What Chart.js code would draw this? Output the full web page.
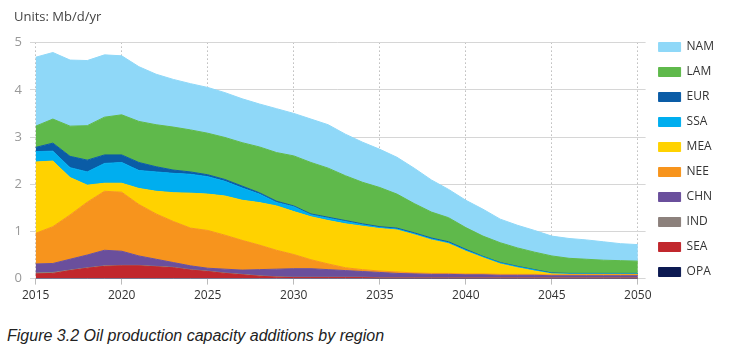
<!DOCTYPE html>
<html>
<head>
<meta charset="utf-8">
<script src="https://cdn.jsdelivr.net/npm/chart.js@4.4.1/dist/chart.umd.min.js"></script>
<style>
  body { margin: 0; background: #fff; }
  #wrap { position: relative; width: 749px; height: 310px; }
  #caption { position: absolute; left: 7px; top: 327px; font: italic 16px "Liberation Sans", Arial, sans-serif; color: #222; }
</style>
</head>
<body>
<div id="wrap"><canvas id="myChart"></canvas></div>
<div id="caption">Figure 3.2 Oil production capacity additions by region</div>
<script>
// Years on the x axis
var years = [2015, 2016, 2017, 2018, 2019, 2020, 2021, 2022, 2023, 2024,
             2025, 2026, 2027, 2028, 2029, 2030, 2031, 2032, 2033, 2034,
             2035, 2036, 2037, 2038, 2039, 2040, 2041, 2042, 2043, 2044,
             2045, 2046, 2047, 2048, 2049, 2050];
var xTicks = [2015, 2020, 2025, 2030, 2035, 2040, 2045, 2050];

// Capacity additions per region, Mb/d/yr
var opa = [0, 0, 0, 0, 0, 0, 0, 0, 0, 0,
           0, 0, 0, 0, 0, 0, 0, 0, 0, 0,
           0, 0, 0, 0, 0, 0, 0, 0, 0, 0,
           0, 0, 0, 0, 0, 0];
var sea = [0.10, 0.11, 0.17, 0.22, 0.26, 0.27, 0.27, 0.25, 0.23, 0.18,
           0.15, 0.11, 0.08, 0.05, 0.03, 0.02, 0.02, 0.02, 0.02, 0.02,
           0.01, 0.01, 0.01, 0.01, 0.01, 0.01, 0.01, 0.01, 0.01, 0.01,
           0.01, 0.01, 0.01, 0.01, 0.01, 0.01];
var ind = [0.02, 0.02, 0.01, 0.01, 0.01, 0.01, 0.01, 0.01, 0.01, 0.01,
           0.01, 0.01, 0.01, 0.01, 0.01, 0.01, 0.01, 0.01, 0.01, 0.01,
           0.01, 0.01, 0.01, 0.01, 0.01, 0.01, 0.01, 0.01, 0.01, 0.01,
           0.01, 0.01, 0.01, 0.01, 0.01, 0.01];
var chn = [0.19, 0.19, 0.23, 0.27, 0.33, 0.30, 0.20, 0.15, 0.10, 0.08,
           0.06, 0.08, 0.09, 0.13, 0.16, 0.18, 0.18, 0.16, 0.14, 0.12,
           0.11, 0.09, 0.08, 0.07, 0.07, 0.06, 0.06, 0.05, 0.05, 0.05,
           0.04, 0.04, 0.04, 0.04, 0.04, 0.04];
var nee = [0.65, 0.78, 0.94, 1.12, 1.25, 1.25, 1.09, 0.96, 0.87, 0.80,
           0.80, 0.72, 0.63, 0.52, 0.40, 0.30, 0.19, 0.12, 0.06, 0.04,
           0.03, 0.03, 0.02, 0.02, 0.02, 0.02, 0.02, 0.02, 0.02, 0.02,
           0.02, 0.02, 0.02, 0.02, 0.02, 0.02];
var mea = [1.51, 1.39, 0.79, 0.36, 0.17, 0.19, 0.34, 0.48, 0.61, 0.74,
           0.77, 0.83, 0.85, 0.90, 0.94, 0.91, 0.91, 0.92, 0.93, 0.92,
           0.90, 0.89, 0.81, 0.71, 0.63, 0.48, 0.34, 0.22, 0.14, 0.07,
           0.02, 0.01, 0.01, 0.01, 0.01, 0.01];
var ssa = [0.22, 0.21, 0.21, 0.28, 0.42, 0.44, 0.38, 0.41, 0.41, 0.40,
           0.37, 0.31, 0.26, 0.18, 0.07, 0.10, 0.04, 0.05, 0.05, 0.03,
           0.02, 0.02, 0.02, 0.02, 0.02, 0.02, 0.02, 0.02, 0.02, 0.02,
           0.01, 0.01, 0.01, 0.01, 0.01, 0.01];
var eur = [0.09, 0.17, 0.24, 0.25, 0.18, 0.16, 0.17, 0.11, 0.07, 0.05,
           0.04, 0.04, 0.04, 0.03, 0.03, 0.02, 0.02, 0.02, 0.02, 0.02,
           0.02, 0.02, 0.02, 0.02, 0.02, 0.02, 0.01, 0.01, 0.01, 0.01,
           0.01, 0.01, 0.01, 0.01, 0.01, 0.01];
var lam = [0.45, 0.51, 0.64, 0.73, 0.80, 0.85, 0.87, 0.89, 0.91, 0.89,
           0.88, 0.89, 0.92, 0.97, 1.03, 1.06, 1.09, 1.04, 0.95, 0.88,
           0.83, 0.72, 0.62, 0.55, 0.51, 0.46, 0.43, 0.42, 0.39, 0.37,
           0.36, 0.32, 0.30, 0.28, 0.27, 0.26];
var nam = [1.46, 1.41, 1.40, 1.38, 1.32, 1.25, 1.16, 1.07, 1.01, 0.98,
           0.97, 0.95, 0.93, 0.91, 0.93, 0.90, 0.92, 0.92, 0.88, 0.85,
           0.81, 0.78, 0.75, 0.68, 0.60, 0.58, 0.57, 0.50, 0.48, 0.46,
           0.42, 0.42, 0.41, 0.39, 0.36, 0.35];

// Bottom of the stack first
var regions = ["OPA", "SEA", "IND", "CHN", "NEE", "MEA", "SSA", "EUR", "LAM", "NAM"];
var series = [opa, sea, ind, chn, nee, mea, ssa, eur, lam, nam];
var colors = ["#0c1a52", "#c1272d", "#8c817c", "#6a4f9c", "#f7941d",
              "#ffd200", "#00aeef", "#0a5ca6", "#5fb94b", "#8fd8f8"];

Chart.defaults.font.family = "'Open Sans', sans-serif";

const data = {
  labels: years,
  datasets: regions.map(function (name, i) {
    return {
      label: name,
      data: series[i],
      backgroundColor: colors[i],
      borderColor: colors[i],
      borderWidth: 1,
      pointRadius: 0,
      tension: 0,
      fill: i === 0 ? "origin" : "-1",
    };
  }),
};

const config = {
  type: "line",
  data: data,
  options: {
    responsive: true,
    maintainAspectRatio: false,
    animation: false,
    layout: { padding: { left: 14, right: 25, top: 0, bottom: 3 } },
    plugins: {
      title: {
        display: true,
        text: "Units: Mb/d/yr",
        align: "start",
        color: "#444",
        font: { size: 13, weight: "normal" },
        padding: { top: 9, bottom: 18 },
      },
      legend: {
        position: "right",
        align: "start",
        reverse: true,
        title: { display: true, text: "", font: { size: 10 }, padding: { top: 0, bottom: 16 } },
        labels: { boxWidth: 22, boxHeight: 9, padding: 13, color: "#333", font: { size: 12 } },
      },
      tooltip: { enabled: false },
    },
    scales: {
      x: {
        type: "linear",
        min: 2014.67,
        max: 2050.45,
        afterBuildTicks: function (scale) {
          scale.ticks = xTicks.map(function (v) { return { value: v }; });
        },
        ticks: {
          color: "#333",
          font: { size: 12 },
          padding: 4,
          maxRotation: 0,
          callback: function (v) { return String(v); },
        },
        grid: { color: "#999", lineWidth: 1, tickLength: 6, tickColor: "#bbb" },
        border: { display: false, dash: [1, 3] },
      },
      y: {
        stacked: true,
        min: 0,
        max: 5,
        afterFit: function (scale) { scale.width = 16; },
        ticks: { stepSize: 1, color: "#999", font: { size: 13 }, padding: 8 },
        grid: { color: "#d6d6d6", lineWidth: 1, drawTicks: false },
        border: { display: false },
      },
    },
  },
};

const myChart = new Chart(document.getElementById("myChart").getContext("2d"), config);
</script>
</body>
</html>
